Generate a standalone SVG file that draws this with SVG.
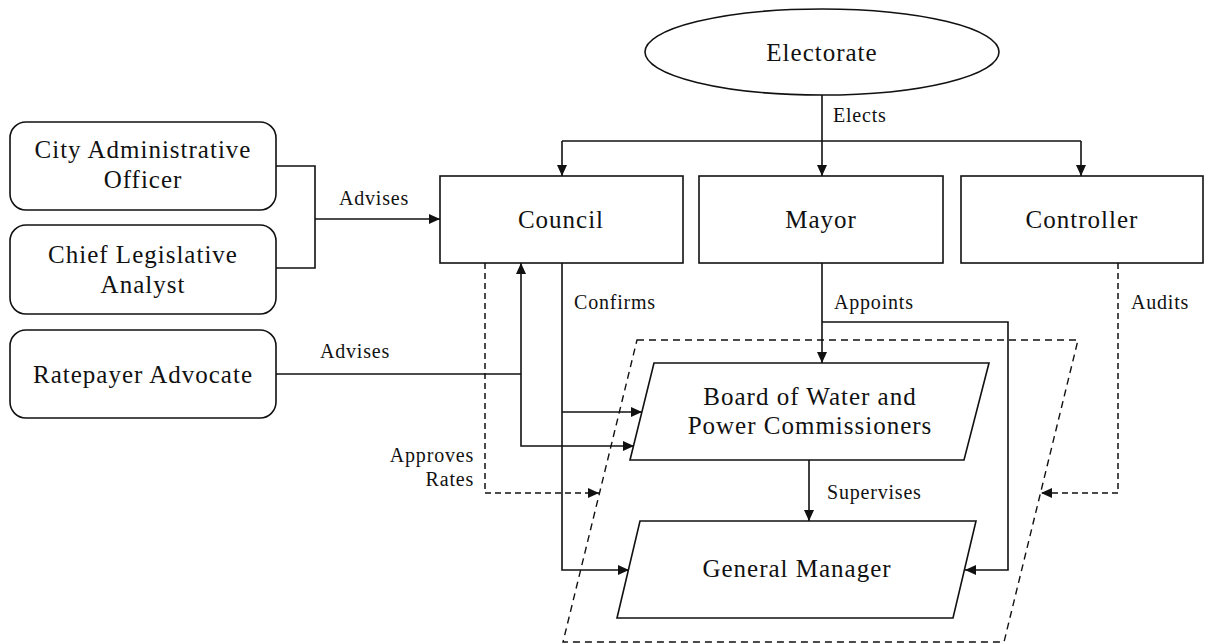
<svg xmlns="http://www.w3.org/2000/svg" width="1205" height="644" viewBox="0 0 1205 644">
  <style>
    .box { fill: #fff; stroke: #111; stroke-width: 1.6; }
    .zone { fill: none; stroke: #111; stroke-width: 1.4; stroke-dasharray: 7 5; }
    .node { font-family: "Liberation Serif", "Times New Roman", serif; font-size: 25px; letter-spacing: 1px; fill: #111; text-anchor: middle; }
    .lbl { font-family: "Liberation Serif", "Times New Roman", serif; font-size: 20px; letter-spacing: 0.8px; fill: #111; }
    .ln { fill: none; stroke: #111; stroke-width: 1.6; }
    .dash { fill: none; stroke: #111; stroke-width: 1.5; stroke-dasharray: 6 4; }
  </style>
  <defs>
    <marker id="arrow" markerUnits="userSpaceOnUse" markerWidth="12" markerHeight="10" refX="11" refY="5" orient="auto">
      <path d="M0,0 L11,5 L0,10 z" fill="#111"/>
    </marker>
  </defs>
  <rect width="1205" height="644" fill="#fff"/>

  <!-- department boundary -->
  <polygon class="zone" points="637,340 1078,340 1004,642 563,642"/>

  <g id="connectors">
    <!-- Electorate elects Council, Mayor, Controller -->
    <path class="ln" d="M822,95 V176" marker-end="url(#arrow)"/>
    <path class="ln" d="M562,141 H1081"/>
    <path class="ln" d="M562,141 V176" marker-end="url(#arrow)"/>
    <path class="ln" d="M1081,141 V176" marker-end="url(#arrow)"/>
    <!-- CAO and CLA advise Council -->
    <path class="ln" d="M276,166 H315 V268 H276"/>
    <path class="ln" d="M315,219 H440" marker-end="url(#arrow)"/>
    <!-- Ratepayer Advocate advises Council and Board -->
    <path class="ln" d="M276,374 H521"/>
    <path class="ln" d="M521,374 V263" marker-end="url(#arrow)"/>
    <path class="ln" d="M521,374 V446 H634" marker-end="url(#arrow)"/>
    <!-- Council confirms Board and General Manager -->
    <path class="ln" d="M562,263 V570 H629" marker-end="url(#arrow)"/>
    <path class="ln" d="M562,412 H642" marker-end="url(#arrow)"/>
    <!-- Council approves rates -->
    <path class="dash" d="M485,263 V493 H599" marker-end="url(#arrow)"/>
    <!-- Mayor appoints Board and General Manager -->
    <path class="ln" d="M822,263 V363" marker-end="url(#arrow)"/>
    <path class="ln" d="M822,322 H1008 V570 H965" marker-end="url(#arrow)"/>
    <!-- Controller audits -->
    <path class="dash" d="M1118,263 V493 H1041" marker-end="url(#arrow)"/>
    <!-- Board supervises General Manager -->
    <path class="ln" d="M809,460 V521" marker-end="url(#arrow)"/>

    <text class="lbl" x="833" y="122">Elects</text>
    <text class="lbl" x="339" y="205">Advises</text>
    <text class="lbl" x="320" y="358">Advises</text>
    <text class="lbl" x="574" y="309">Confirms</text>
    <text class="lbl" x="834" y="309">Appoints</text>
    <text class="lbl" x="1131" y="309">Audits</text>
    <text class="lbl" x="827" y="499">Supervises</text>
    <text class="lbl" x="474" y="462" text-anchor="end">Approves</text>
    <text class="lbl" x="474" y="486" text-anchor="end">Rates</text>
  </g>

  <g id="electorate">
    <ellipse class="box" cx="822" cy="52" rx="177" ry="43"/>
    <text class="node" x="822" y="61">Electorate</text>
  </g>
  <g id="council">
    <rect class="box" x="440" y="176" width="243" height="87"/>
    <text class="node" x="561" y="228">Council</text>
  </g>
  <g id="mayor">
    <rect class="box" x="699" y="176" width="244" height="87"/>
    <text class="node" x="821" y="228">Mayor</text>
  </g>
  <g id="controller">
    <rect class="box" x="961" y="176" width="242" height="87"/>
    <text class="node" x="1082" y="228">Controller</text>
  </g>
  <g id="cao">
    <rect class="box" x="10" y="122" width="266" height="88" rx="16"/>
    <text class="node" x="143" y="158">City Administrative</text>
    <text class="node" x="143" y="188">Officer</text>
  </g>
  <g id="cla">
    <rect class="box" x="10" y="225" width="266" height="89" rx="16"/>
    <text class="node" x="143" y="263">Chief Legislative</text>
    <text class="node" x="143" y="293">Analyst</text>
  </g>
  <g id="ratepayer">
    <rect class="box" x="10" y="330" width="266" height="88" rx="16"/>
    <text class="node" x="143" y="383">Ratepayer Advocate</text>
  </g>
  <g id="board">
    <polygon class="box" points="654,363 989,363 964,460 630,460"/>
    <text class="node" x="810" y="405">Board of Water and</text>
    <text class="node" x="810" y="434">Power Commissioners</text>
  </g>
  <g id="general-manager">
    <polygon class="box" points="640,521 976,521 953,618 617,618"/>
    <text class="node" x="797" y="577">General Manager</text>
  </g>
</svg>
